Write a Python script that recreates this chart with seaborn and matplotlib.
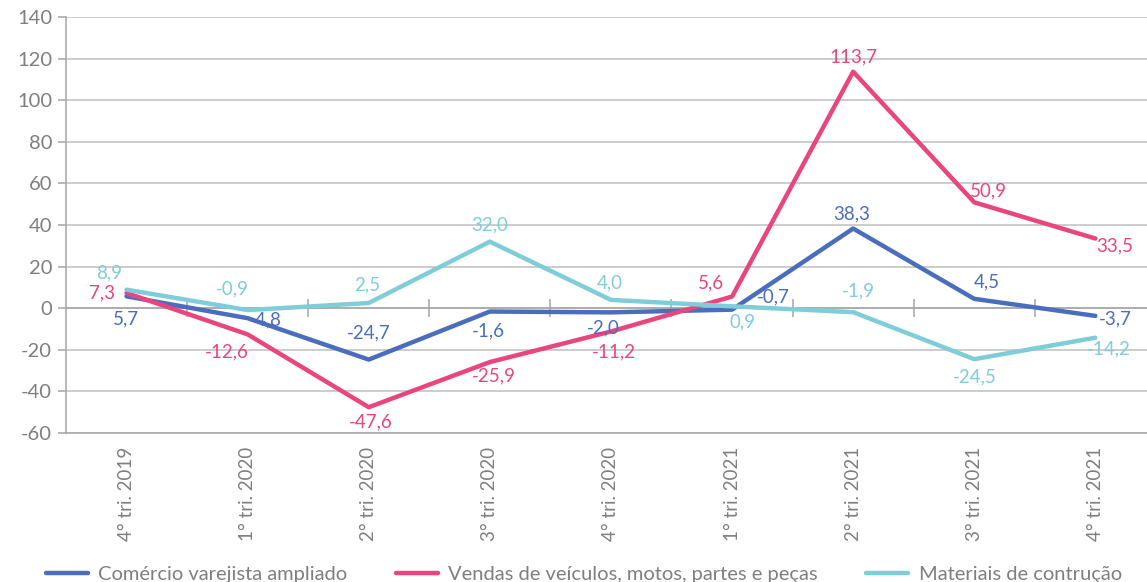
import numpy as np
import pandas as pd
import matplotlib
matplotlib.use("Agg")
import matplotlib.pyplot as plt
import seaborn as sns

categories = ["4° tri. 2019", "1° tri. 2020", "2° tri. 2020", "3° tri. 2020", "4° tri. 2020",
              "1° tri. 2021", "2° tri. 2021", "3° tri. 2021", "4° tri. 2021"]
comercio = [5.7, -4.8, -24.7, -1.6, -2.0, -0.7, 38.3, 4.5, -3.7]
veiculos = [7.3, -12.6, -47.6, -25.9, -11.2, 5.6, 113.7, 50.9, 33.5]
materiais = [8.9, -0.9, 2.5, 32.0, 4.0, 0.9, -1.9, -24.5, -14.2]
series_names = ["Comércio varejista ampliado", "Vendas de veículos, motos, partes e peças",
                "Materiais de contrução"]
y_ticks = [-60, -40, -20, 0, 20, 40, 60, 80, 100, 120, 140]

colors = ["#4A6DBC", "#E8467C", "#7FCDD8"]
gray = "#7F7F7F"

sns.set_theme(style="white")
plt.rcParams['font.family'] = ['Lato', 'DejaVu Sans']

rows = []
for name, vals in zip(series_names, [comercio, veiculos, materiais]):
    for i, v in enumerate(vals):
        rows.append({"x": i, "valor": v, "serie": name})
df = pd.DataFrame(rows)

fig = plt.figure(figsize=(11.47, 5.82), dpi=100)
left = 66 / 1147
right_px = 66 + 9 * 121.1
ax = fig.add_axes([left, 1 - 433 / 582, (right_px - 66) / 1147, (433 - 17) / 582])

# grid
for t in y_ticks:
    if t == 0:
        continue
    ax.axhline(t, color="#BFBFBF", lw=1.1, zorder=0)
ax.axhline(0, color="#A6A6A6", lw=1.3, zorder=1)
bounds = np.arange(0.5, len(categories) - 0.5, 1.0)
ax.vlines(bounds, -4.3, 4.3, color="#A6A6A6", lw=1.1, zorder=1)

sns.lineplot(data=df, x="x", y="valor", hue="serie", palette=colors, hue_order=series_names,
             lw=3.2, ax=ax, sort=False, legend=False, zorder=3)

ax.set_xlim(-0.5, len(categories) - 0.5)
ax.set_ylim(-60, 140)
ax.set_yticks(y_ticks)
ax.set_yticklabels([str(t) for t in y_ticks], fontsize=14.5, color=gray)
ax.set_xticks(range(len(categories)))
ax.set_xticklabels(categories, rotation=90, fontsize=13.5, color=gray)
ax.set_xticks(np.arange(-0.5, len(categories), 1.0), minor=True)
ax.tick_params(axis="x", which="major", length=0, pad=10)
ax.tick_params(axis="x", which="minor", length=7, color="#A6A6A6", width=1.1, direction="out")
ax.tick_params(axis="y", length=6, color="#A6A6A6", width=1.1, direction="out", pad=4, left=True)
for s in ["top", "right"]:
    ax.spines[s].set_visible(False)
for s in ["left", "bottom"]:
    ax.spines[s].set_color("#A6A6A6")
    ax.spines[s].set_linewidth(1.1)
ax.set_xlabel("")
ax.set_ylabel("")

# data label offsets (pixels)
off_c = [(-1, -23), (18, -2), (0, 27), (-1, -19), (-8, -16), (41, 13), (-1, 15), (13, 17), (20, -3)]
off_v = [(-25, 0), (-21, -17), (2, -15), (4, -14), (3, -20), (-21, 14), (0, 15), (14, 11), (19, -7)]
off_m = [(-17, 17), (-15, 21), (-2, 18), (0, 17), (-1, 17), (10, -16), (5, 21), (1, -18), (13, -11)]

def fmt(v):
    return f"{v:.1f}".replace(".", ",")

for vals, offs, col in zip([comercio, veiculos, materiais], [off_c, off_v, off_m], colors):
    for i, (v, o) in enumerate(zip(vals, offs)):
        ax.annotate(fmt(v), (i, v), xytext=o, textcoords="offset pixels",
                    ha="center", va="center", fontsize=13.5, color=col, zorder=5)

from matplotlib.lines import Line2D
handles = [Line2D([0], [0], color=c, lw=3.2) for c in colors]
fig.legend(handles, series_names, loc="lower center", bbox_to_anchor=(0.509, -0.033), ncol=3,
           frameon=False, fontsize=14.5, labelcolor=gray, handlelength=2.1, columnspacing=2.4,
           handletextpad=0.5)

fig.savefig("out.png", dpi=100)
